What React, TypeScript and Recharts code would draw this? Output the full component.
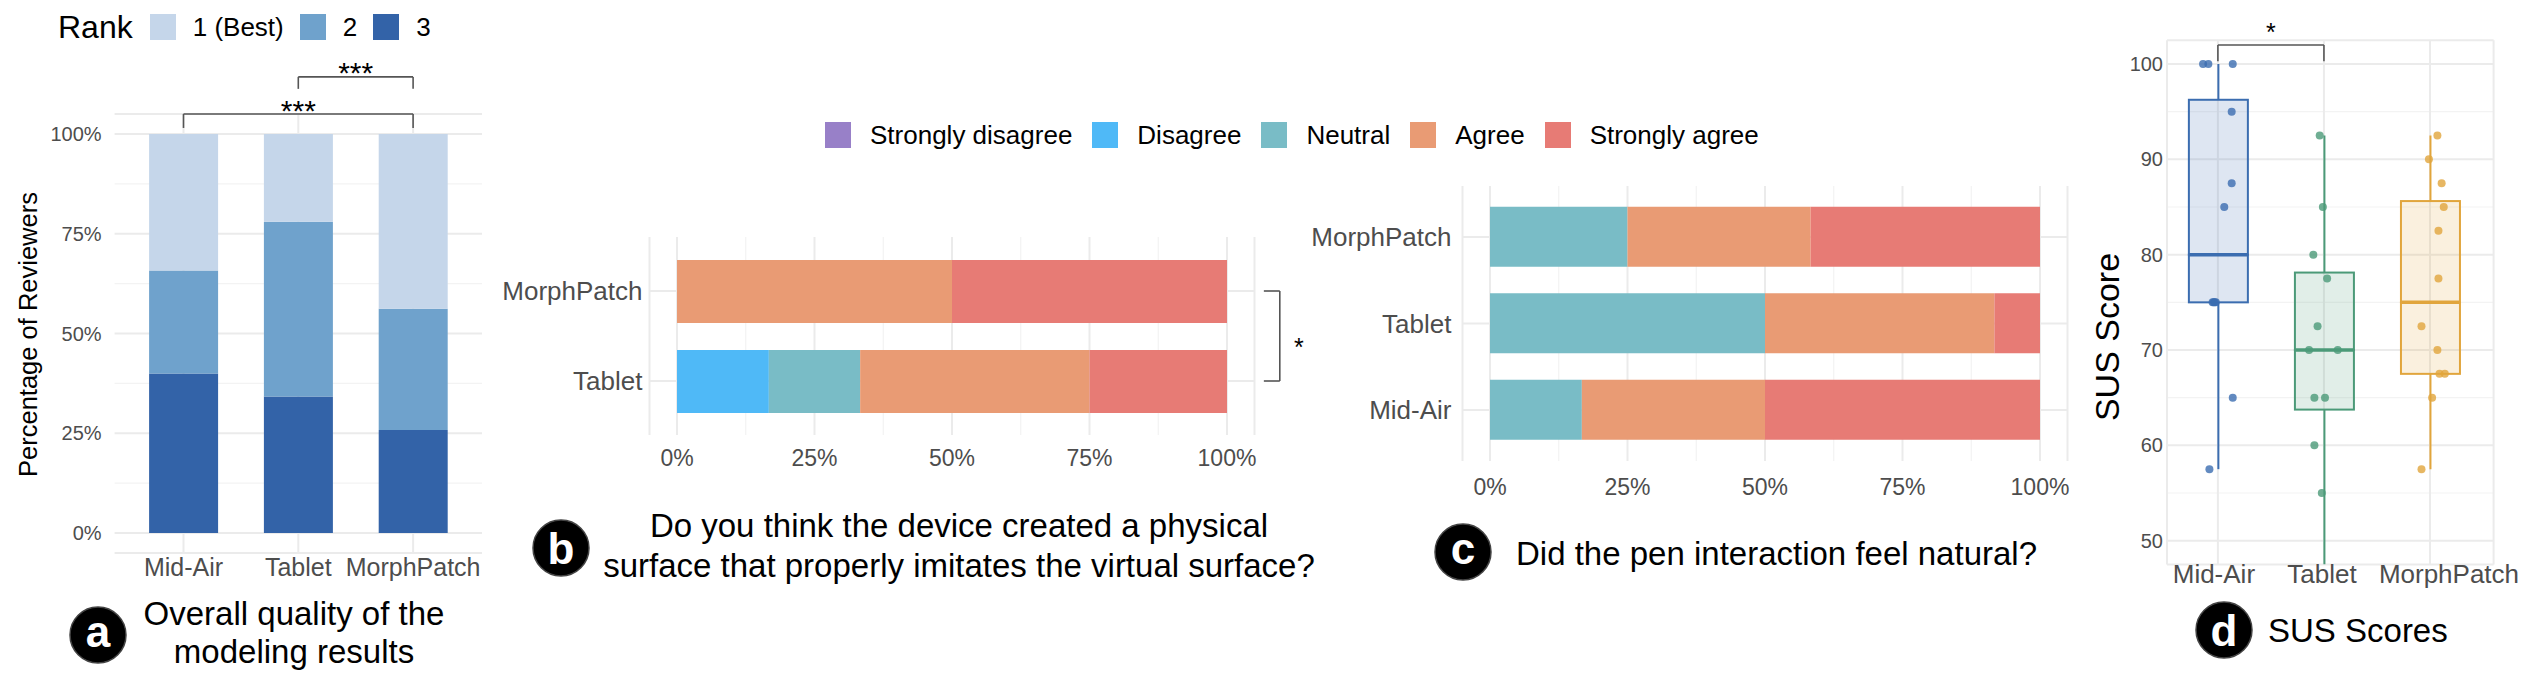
import React from 'react';
import {
  BarChart,
  Bar,
  ComposedChart,
  Scatter,
  XAxis,
  YAxis,
  CartesianGrid,
  ReferenceLine,
} from 'recharts';

const FONT = '"Liberation Sans", Arial, Helvetica, sans-serif';
const TICK = '#4d4d4d';
const GRID = '#ebebeb';
const GRID_MINOR = '#f3f3f3';
const BRACKET = '#555555';

// (a) ranking of the modeling results
const devices = ['Mid-Air', 'Tablet', 'MorphPatch'];
const rankNames = ['1 (Best)', '2', '3'];
const rankColors = ['#c5d6ea', '#6fa2cc', '#3363a8'];
const rank1 = [34.2, 22.0, 43.8];
const rank2 = [25.8, 43.8, 30.4];
const rank3 = [40.0, 34.2, 25.8];
const pctTicks = [0, 25, 50, 75, 100];
const pctMinor = [12.5, 37.5, 62.5, 87.5];

// (b) / (c) likert answers, in percent of participants
const likertNames = ['Strongly disagree', 'Disagree', 'Neutral', 'Agree', 'Strongly agree'];
const likertKeys = ['sd', 'd', 'n', 'a', 'sa'];
const likertColors = ['#9880c8', '#4fb9f7', '#79bcc6', '#e99b74', '#e77b75'];

const surfaceDevices = ['MorphPatch', 'Tablet'];
const surfaceSD = [0, 0];
const surfaceD = [0, 16.7];
const surfaceN = [0, 16.6];
const surfaceA = [50, 41.7];
const surfaceSA = [50, 25];

const naturalDevices = ['MorphPatch', 'Tablet', 'Mid-Air'];
const naturalSD = [0, 0, 0];
const naturalD = [0, 0, 0];
const naturalN = [25, 50, 16.7];
const naturalA = [33.3, 41.7, 33.3];
const naturalSA = [41.7, 8.3, 50];

// (d) SUS scores per participant, and horizontal jitter of each dot
const susMidAir = [100, 100, 100, 95, 87.5, 85, 75, 75, 75, 75, 65, 57.5];
const susTablet = [92.5, 85, 80, 77.5, 72.5, 70, 70, 65, 65, 60, 55, 45];
const susMorph = [92.5, 90, 87.5, 85, 82.5, 77.5, 72.5, 70, 67.5, 67.5, 65, 57.5];
const jitMidAir = [-0.14, -0.09, 0.14, 0.13, 0.13, 0.06, -0.05, -0.04, -0.03, -0.02, 0.14, -0.08];
const jitTablet = [-0.04, -0.01, -0.1, 0.03, -0.06, -0.14, 0.13, -0.09, 0.01, -0.09, -0.02, 0];
const jitMorph = [0.07, -0.01, 0.11, 0.13, 0.08, 0.08, -0.08, 0.07, 0.09, 0.14, 0.02, -0.08];
const susTicks = [50, 60, 70, 80, 90, 100];
const susMinor = [55, 65, 75, 85, 95];
const susColors = ['#3b6db0', '#4b9a78', '#e1a53c'];

const rankRows = devices.map((device, i) => ({
  device,
  rank3: rank3[i],
  rank2: rank2[i],
  rank1: rank1[i],
}));

const likertRows = (names: string[], cols: number[][]) =>
  names.map((device, i) => {
    const row: Record<string, any> = { device };
    likertKeys.forEach((k, j) => (row[k] = cols[j][i]));
    return row;
  });

const surfaceRows = likertRows(surfaceDevices, [surfaceSD, surfaceD, surfaceN, surfaceA, surfaceSA]);
const naturalRows = likertRows(naturalDevices, [naturalSD, naturalD, naturalN, naturalA, naturalSA]);

// R type-7 quantile
const quantile = (values: number[], p: number) => {
  const s = [...values].sort((a, b) => a - b);
  const h = (s.length - 1) * p;
  const lo = Math.floor(h);
  const hi = Math.ceil(h);
  return s[lo] + (h - lo) * (s[hi] - s[lo]);
};

const susSets = [susMidAir, susTablet, susMorph];
const jitSets = [jitMidAir, jitTablet, jitMorph];

const boxRows = susSets.map((vals, i) => {
  const q1 = quantile(vals, 0.25);
  const med = quantile(vals, 0.5);
  const q3 = quantile(vals, 0.75);
  const iqr = q3 - q1;
  const lo = Math.min(...vals.filter((v) => v >= q1 - 1.5 * iqr));
  const hi = Math.max(...vals.filter((v) => v <= q3 + 1.5 * iqr));
  return {
    pos: i + 1,
    idx: i,
    base: lo,
    lw: q1 - lo,
    bl: med - q1,
    bh: q3 - med,
    uw: hi - q3,
  };
});

const susPoints = susSets.map((vals, i) =>
  vals.map((score, j) => ({ pos: i + 1 + jitSets[i][j], score }))
);

const tickStyle = (size: number) => ({ fontSize: size, fill: TICK, fontFamily: FONT });

// grid lines at arbitrary values of a numeric axis (minor lines)
const linearGrid =
  (values: number[], domain: [number, number], which: 'x' | 'y') =>
  (props: any) => {
    const axis = which === 'x' ? props.xAxis : props.yAxis;
    if (axis && typeof axis.scale === 'function') return values.map((v) => axis.scale(v));
    const o = props.offset;
    const t = (v: number) => (v - domain[0]) / (domain[1] - domain[0]);
    return which === 'x'
      ? values.map((v) => o.left + o.width * t(v))
      : values.map((v) => o.top + o.height * (1 - t(v)));
  };

// grid lines through the middle of each category band
const bandGrid =
  (cats: string[], which: 'x' | 'y', pad: number) =>
  (props: any) => {
    const axis = which === 'x' ? props.xAxis : props.yAxis;
    if (axis && typeof axis.scale === 'function' && axis.scale.bandwidth) {
      const bw = axis.scale.bandwidth();
      return cats.map((c) => axis.scale(c) + bw / 2);
    }
    const o = props.offset;
    const start = which === 'x' ? o.left : o.top;
    const len = which === 'x' ? o.width : o.height;
    const step = (len - 2 * pad) / cats.length;
    return cats.map((_, i) => start + pad + (i + 0.5) * step);
  };

// star text placed relative to the bracket segment it belongs to
const sigLabel =
  (text: string, dx: number, dy: number, size: number) =>
  (props: any) => {
    const vb = props.viewBox || { x: 0, y: 0, width: 0, height: 0 };
    return (
      <text
        x={vb.x + vb.width / 2 + dx}
        y={vb.y + vb.height / 2 + dy}
        textAnchor="middle"
        fontSize={size}
        fontFamily={FONT}
        fill="#000"
      >
        {text}
      </text>
    );
  };

// device names under the box plots; the last one sits a bit to the right
const SusTick = (p: any) => {
  const shift = [-4, -2, 19];
  const i = Math.round(p.payload.value) - 1;
  return (
    <text
      x={p.x + (shift[i] ?? 0)}
      y={p.y}
      dy="0.71em"
      textAnchor="middle"
      fontSize={26}
      fontFamily={FONT}
      fill={TICK}
    >
      {devices[i] ?? ''}
    </text>
  );
};

const Whisker = (p: any) => {
  if (!p.height) return null;
  const cx = p.x + p.width / 2;
  return (
    <line x1={cx} x2={cx} y1={p.y} y2={p.y + p.height} stroke={susColors[p.payload.idx]} strokeWidth={2} />
  );
};

const BoxHalf = (p: any) => {
  const c = susColors[p.payload.idx];
  return (
    <rect
      x={p.x}
      y={p.y}
      width={p.width}
      height={p.height}
      fill={c}
      fillOpacity={0.17}
      stroke={c}
      strokeWidth={2}
    />
  );
};

const BoxUpper = (p: any) => {
  const c = susColors[p.payload.idx];
  return (
    <g>
      <rect
        x={p.x}
        y={p.y}
        width={p.width}
        height={p.height}
        fill={c}
        fillOpacity={0.17}
        stroke={c}
        strokeWidth={2}
      />
      <line x1={p.x} x2={p.x + p.width} y1={p.y + p.height} y2={p.y + p.height} stroke={c} strokeWidth={3.5} />
    </g>
  );
};

const Legend = ({
  left,
  top,
  title,
  names,
  colors,
}: {
  left: number;
  top: number;
  title?: string;
  names: string[];
  colors: string[];
}) => (
  <div
    style={{
      position: 'absolute',
      left,
      top,
      height: 40,
      display: 'flex',
      alignItems: 'center',
      fontFamily: FONT,
      lineHeight: 1,
      whiteSpace: 'nowrap',
    }}
  >
    {title && <span style={{ fontSize: 32, marginRight: 17, color: '#000' }}>{title}</span>}
    {names.map((n, i) => (
      <div key={n} style={{ display: 'flex', alignItems: 'center', marginRight: title ? 16 : 20 }}>
        <div style={{ width: 26, height: 26, background: colors[i], marginRight: title ? 17 : 19 }} />
        <span style={{ fontSize: 26, color: '#000' }}>{n}</span>
      </div>
    ))}
  </div>
);

const Badge = ({ cx, cy, letter, tall }: { cx: number; cy: number; letter: string; tall?: boolean }) => (
  <g>
    <circle cx={cx} cy={cy} r={28} fill="#000" stroke="#444" strokeWidth={1.5} />
    <text
      x={cx}
      y={cy + (tall ? 15.5 : 11.5)}
      textAnchor="middle"
      fontSize={44}
      fontWeight="bold"
      fontFamily={FONT}
      fill="#fff"
    >
      {letter}
    </text>
  </g>
);

const Overlay = () => (
  <svg
    width={2531}
    height={674}
    style={{ position: 'absolute', left: 0, top: 0, pointerEvents: 'none', zIndex: 5 }}
    fontFamily={FONT}
  >
    {/* axis titles */}
    <text
      x={28}
      y={334.5 + 8.5}
      transform="rotate(-90 28 334.5)"
      textAnchor="middle"
      fontSize={25.5}
      fill="#000"
    >
      Percentage of Reviewers
    </text>
    <text x={2107} y={337 + 11.5} transform="rotate(-90 2107 337)" textAnchor="middle" fontSize={34} fill="#000">
      SUS Score
    </text>

    {/* panel captions */}
    <Badge cx={98} cy={635} letter="a" />
    <text x={294} y={625} textAnchor="middle" fontSize={33} fill="#000">
      Overall quality of the
    </text>
    <text x={294} y={663} textAnchor="middle" fontSize={33} fill="#000">
      modeling results
    </text>

    <Badge cx={561} cy={548} letter="b" tall />
    <text x={959} y={537} textAnchor="middle" fontSize={33} fill="#000">
      Do you think the device created a physical
    </text>
    <text x={959} y={577} textAnchor="middle" fontSize={33} fill="#000">
      surface that properly imitates the virtual surface?
    </text>

    <Badge cx={1463} cy={552} letter="c" />
    <text x={1516} y={565} fontSize={33} fill="#000">
      Did the pen interaction feel natural?
    </text>

    <Badge cx={2224} cy={630} letter="d" tall />
    <text x={2268} y={642} fontSize={33} fill="#000">
      SUS Scores
    </text>
  </svg>
);

const App = () => {
  const br = { stroke: BRACKET, strokeWidth: 1.6, ifOverflow: 'visible' as const };

  return (
    <div
      style={{
        position: 'absolute',
        left: 0,
        top: 0,
        width: 2531,
        height: 674,
        background: '#fff',
        overflow: 'hidden',
        fontFamily: FONT,
      }}
    >
      {/* (a) rank bars */}
      <div style={{ position: 'absolute', left: 0, top: 0 }}>
        <BarChart
          width={495}
          height={600}
          data={rankRows}
          margin={{ top: 114, right: 13, bottom: 7, left: 0 }}
          barSize={69}
        >
          <CartesianGrid
            vertical={false}
            stroke={GRID_MINOR}
            strokeWidth={1.2}
            horizontalCoordinatesGenerator={linearGrid(pctMinor, [-5, 105], 'y')}
          />
          <CartesianGrid
            horizontal={false}
            stroke={GRID}
            strokeWidth={2}
            verticalCoordinatesGenerator={bandGrid(devices, 'x', 11.5)}
          />
          <CartesianGrid vertical={false} stroke={GRID} strokeWidth={2} />
          <XAxis
            dataKey="device"
            padding={{ left: 11.5, right: 11.5 }}
            axisLine={false}
            tickLine={false}
            tickSize={0}
            tickMargin={5}
            height={40}
            interval={0}
            tick={tickStyle(25)}
          />
          <YAxis
            type="number"
            domain={[-5, 105]}
            ticks={pctTicks}
            allowDataOverflow
            tickFormatter={(v) => `${v}%`}
            width={114.6}
            axisLine={false}
            tickLine={false}
            tickSize={0}
            tickMargin={13}
            tick={tickStyle(20)}
          />
          {['rank3', 'rank2', 'rank1'].map((k, i) => (
            <Bar key={k} dataKey={k} stackId="rank" fill={rankColors[2 - i]} isAnimationActive={false} />
          ))}
          <ReferenceLine
            {...br}
            segment={[
              { x: 'Mid-Air', y: 105 },
              { x: 'MorphPatch', y: 105 },
            ]}
            label={sigLabel('***', 0, 7, 30)}
          />
          <ReferenceLine {...br} segment={[{ x: 'Mid-Air', y: 105 }, { x: 'Mid-Air', y: 101.5 }]} />
          <ReferenceLine {...br} segment={[{ x: 'MorphPatch', y: 105 }, { x: 'MorphPatch', y: 101.5 }]} />
          <ReferenceLine
            {...br}
            segment={[
              { x: 'Tablet', y: 114.3 },
              { x: 'MorphPatch', y: 114.3 },
            ]}
            label={sigLabel('***', 0, 6, 30)}
          />
          <ReferenceLine {...br} segment={[{ x: 'Tablet', y: 114.3 }, { x: 'Tablet', y: 111.3 }]} />
          <ReferenceLine {...br} segment={[{ x: 'MorphPatch', y: 114.3 }, { x: 'MorphPatch', y: 111.3 }]} />
        </BarChart>
      </div>
      <Legend left={58} top={7} title="Rank" names={rankNames} colors={rankColors} />

      {/* shared likert legend */}
      <Legend left={825} top={115} names={likertNames} colors={likertColors} />

      {/* (b) physical surface */}
      <div style={{ position: 'absolute', left: 480, top: 180 }}>
        <BarChart
          layout="vertical"
          width={840}
          height={300}
          data={surfaceRows}
          margin={{ top: 57, right: 65.5, bottom: 5, left: 0 }}
          barSize={63}
        >
          <CartesianGrid
            horizontal={false}
            stroke={GRID_MINOR}
            strokeWidth={1.2}
            verticalCoordinatesGenerator={linearGrid(pctMinor, [-5, 105], 'x')}
          />
          <CartesianGrid horizontal={false} stroke={GRID} strokeWidth={2} />
          <CartesianGrid
            vertical={false}
            stroke={GRID}
            strokeWidth={2}
            horizontalCoordinatesGenerator={bandGrid(surfaceDevices, 'y', 9)}
          />
          <XAxis
            type="number"
            domain={[-5, 105]}
            ticks={pctTicks}
            allowDataOverflow
            tickFormatter={(v) => `${v}%`}
            axisLine={false}
            tickLine={false}
            tickSize={0}
            tickMargin={15}
            height={40}
            interval={0}
            tick={tickStyle(23)}
          />
          <YAxis
            type="category"
            dataKey="device"
            width={169.5}
            padding={{ top: 9, bottom: 9 }}
            axisLine={false}
            tickLine={false}
            tickSize={0}
            tickMargin={7}
            interval={0}
            tick={tickStyle(26)}
          />
          {likertKeys.map((k, i) => (
            <Bar key={k} dataKey={k} stackId="lk" fill={likertColors[i]} isAnimationActive={false} />
          ))}
          <ReferenceLine
            {...br}
            segment={[
              { x: 109.6, y: 'MorphPatch' },
              { x: 109.6, y: 'Tablet' },
            ]}
            label={sigLabel('*', 19, 20, 25)}
          />
          <ReferenceLine {...br} segment={[{ x: 106.7, y: 'MorphPatch' }, { x: 109.6, y: 'MorphPatch' }]} />
          <ReferenceLine {...br} segment={[{ x: 106.7, y: 'Tablet' }, { x: 109.6, y: 'Tablet' }]} />
        </BarChart>
      </div>

      {/* (c) pen interaction */}
      <div style={{ position: 'absolute', left: 1300, top: 140 }}>
        <BarChart
          layout="vertical"
          width={790}
          height={370}
          data={naturalRows}
          margin={{ top: 46, right: 22.5, bottom: 4, left: 0 }}
          barSize={60}
        >
          <CartesianGrid
            horizontal={false}
            stroke={GRID_MINOR}
            strokeWidth={1.2}
            verticalCoordinatesGenerator={linearGrid(pctMinor, [-5, 105], 'x')}
          />
          <CartesianGrid horizontal={false} stroke={GRID} strokeWidth={2} />
          <CartesianGrid
            vertical={false}
            stroke={GRID}
            strokeWidth={2}
            horizontalCoordinatesGenerator={bandGrid(naturalDevices, 'y', 7.75)}
          />
          <XAxis
            type="number"
            domain={[-5, 105]}
            ticks={pctTicks}
            allowDataOverflow
            tickFormatter={(v) => `${v}%`}
            axisLine={false}
            tickLine={false}
            tickSize={0}
            tickMargin={18}
            height={45}
            interval={0}
            tick={tickStyle(23)}
          />
          <YAxis
            type="category"
            dataKey="device"
            width={162.5}
            padding={{ top: 7.75, bottom: 7.75 }}
            axisLine={false}
            tickLine={false}
            tickSize={0}
            tickMargin={11}
            interval={0}
            tick={tickStyle(26)}
          />
          {likertKeys.map((k, i) => (
            <Bar key={k} dataKey={k} stackId="lk" fill={likertColors[i]} isAnimationActive={false} />
          ))}
        </BarChart>
      </div>

      {/* (d) SUS box plots */}
      <div style={{ position: 'absolute', left: 2080, top: 0 }}>
        <ComposedChart
          width={451}
          height={610}
          data={boxRows}
          margin={{ top: 40.2, right: 37.4, bottom: 5.5, left: 0 }}
        >
          <CartesianGrid
            vertical={false}
            stroke={GRID_MINOR}
            strokeWidth={1.2}
            horizontalCoordinatesGenerator={linearGrid(susMinor, [47.5, 102.5], 'y')}
          />
          <CartesianGrid stroke={GRID} strokeWidth={2} />
          <XAxis
            type="number"
            dataKey="pos"
            domain={[0.52, 3.6]}
            ticks={[1, 2, 3]}
            allowDataOverflow
            axisLine={false}
            tickLine={false}
            tickSize={0}
            tickMargin={0}
            height={40}
            interval={0}
            tick={SusTick}
          />
          <XAxis xAxisId="jit" type="number" dataKey="pos" domain={[0.52, 3.6]} allowDataOverflow hide />
          <YAxis
            type="number"
            domain={[47.5, 102.5]}
            ticks={susTicks}
            allowDataOverflow
            width={87}
            axisLine={false}
            tickLine={false}
            tickSize={0}
            tickMargin={4}
            tick={tickStyle(20)}
          />
          <Bar dataKey="base" stackId="box" fill="none" barSize={59} isAnimationActive={false} />
          <Bar dataKey="lw" stackId="box" barSize={59} shape={Whisker} isAnimationActive={false} />
          <Bar dataKey="bl" stackId="box" barSize={59} shape={BoxHalf} isAnimationActive={false} />
          <Bar dataKey="bh" stackId="box" barSize={59} shape={BoxUpper} isAnimationActive={false} />
          <Bar dataKey="uw" stackId="box" barSize={59} shape={Whisker} isAnimationActive={false} />
          {susPoints.map((pts, i) => (
            <Scatter
              key={devices[i]}
              xAxisId="jit"
              data={pts}
              dataKey="score"
              isAnimationActive={false}
              shape={(p: any) => <circle cx={p.cx} cy={p.cy} r={4} fill={susColors[i]} fillOpacity={0.8} />}
            />
          ))}
          <ReferenceLine
            {...br}
            segment={[
              { x: 1, y: 102 },
              { x: 2, y: 102 },
            ]}
            label={sigLabel('*', 0, -4, 25)}
          />
          <ReferenceLine {...br} segment={[{ x: 1, y: 102 }, { x: 1, y: 100.3 }]} />
          <ReferenceLine {...br} segment={[{ x: 2, y: 102 }, { x: 2, y: 100.3 }]} />
        </ComposedChart>
      </div>

      <Overlay />
    </div>
  );
};

export default App;
